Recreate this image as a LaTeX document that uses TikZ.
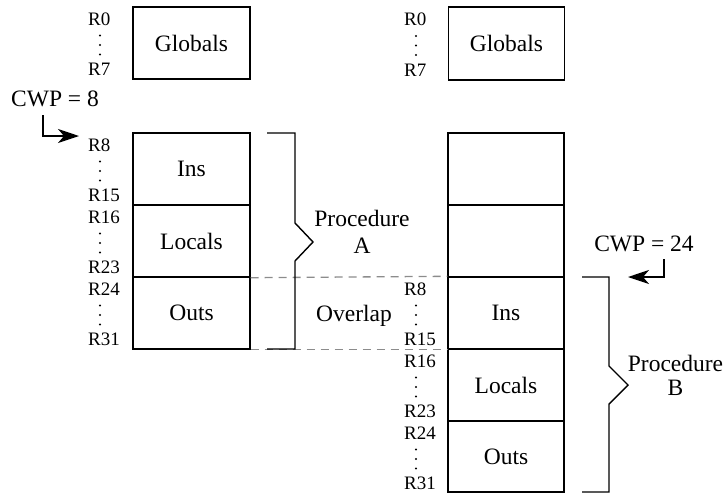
\documentclass[tikz,border=0pt]{standalone}
\usepackage{fontspec}
\setmainfont{Liberation Serif}
\usetikzlibrary{arrows.meta}
\newcommand\regs[6]{%
  \node[reglabel] (#1t) at (#2,#3+12) {#5};
  \node[reglabel] (#1b) at (#2,#4-10) {#6};
  \foreach \k in {-9.5,0,9.5} \fill (#2+12,{(#3+#4)/2+2+\k}) circle (1.1pt);
}
\begin{document}
\begin{tikzpicture}[x=1pt,y=-1pt,
  cellbox/.style={draw, line width=1.4pt, minimum width=117pt, minimum height=72pt, inner sep=0pt, font=\fontsize{23.5}{27}\selectfont},
  reglabel/.style={anchor=west, inner sep=0pt, font=\fontsize{19}{22}\selectfont},
  txt/.style={inner sep=0pt, font=\fontsize{23.5}{27}\selectfont},
  bracket/.style={line width=1.4pt, line join=miter},
  overlapline/.style={dash pattern=on 8pt off 6pt, draw=black!45, line width=1.3pt},
  pointer/.style={line width=1.6pt, -{Stealth[length=21pt,width=14pt,inset=6pt]}}
]
\useasboundingbox (0,0) rectangle (726,493);

\node[cellbox] (lglob) at (191.5,43) {Globals};
\node[cellbox] (lins) at (191.5,169) {Ins};
\node[cellbox] (lloc) at (191.5,241) {Locals};
\node[cellbox] (lout) at (191.5,313) {Outs};

\node[cellbox, minimum width=116pt, minimum height=73pt] (rglob) at (506.5,43.5) {Globals};
\node[cellbox, minimum width=116pt] (rb1) at (506,169) {};
\node[cellbox, minimum width=116pt] (rb2) at (506,241) {};
\node[cellbox, minimum width=116pt] (rins) at (506,313) {Ins};
\node[cellbox, minimum width=116pt] (rloc) at (506,385) {Locals};
\node[cellbox, minimum width=116pt, minimum height=71pt] (rout) at (506,456.5) {Outs};

\draw[overlapline] (lloc.south east) -- (rins.north west);
\draw[overlapline] (lout.south east) -- (rins.south west);

% register labels
\regs{lg}{88}{7}{79}{R0}{R7}
\regs{li}{88}{133}{205}{R8}{R15}
\regs{ll}{88}{205}{277}{R16}{R23}
\regs{lo}{88}{277}{349}{R24}{R31}
\regs{rg}{404}{7}{80}{R0}{R7}
\regs{ri}{404}{277}{349}{R8}{R15}
\regs{rl}{404}{349}{421}{R16}{R23}
\regs{ro}{404}{421}{493}{R24}{R31}

% braces
\draw[bracket] (267,133) -- (295,133) -- (295,223) -- (313,242) -- (295,261) -- (295,349) -- (267,349);
\draw[bracket] (582,277) -- (609,277) -- (609,366) -- (628,385) -- (609,404) -- (609,492) -- (582,492);

% labels
\node[txt, align=center, font=\fontsize{23.5}{27}\selectfont] (proca) at (362,231.5) {Procedure\\A};
\node[txt, align=center, font=\fontsize{23.5}{24}\selectfont] (procb) at (675.5,375) {Procedure\\B};
\node[txt, anchor=base] (ovl) at (354,321) {Overlap};

% CWP pointers
\node[txt] (cwpa) at (55,99) {CWP = 8};
\coordinate (cwpas) at (43,115);
\coordinate (cwpae) at (79,136);
\draw[pointer] (cwpas) |- (cwpae);

\node[txt] (cwpb) at (644,244) {CWP = 24};
\coordinate (cwpbs) at (664,259);
\coordinate (cwpbe) at (628,277);
\draw[pointer] (cwpbs) |- (cwpbe);
\end{tikzpicture}
\end{document}
